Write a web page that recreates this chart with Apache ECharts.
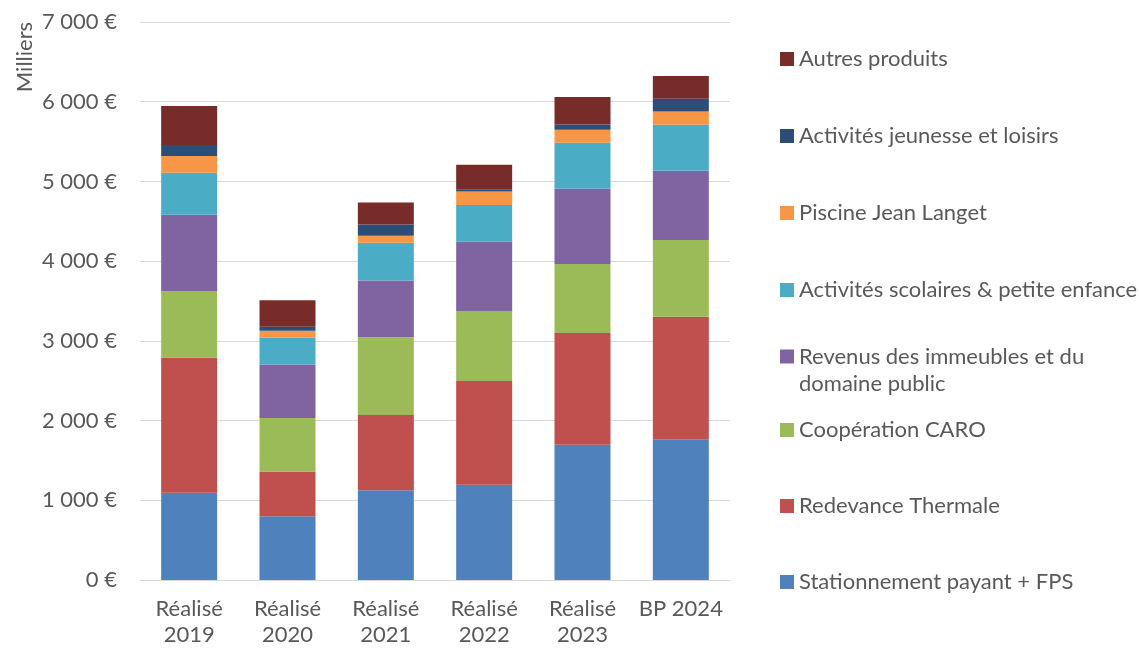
<!DOCTYPE html>
<html>
<head>
<meta charset="utf-8">
<script src="https://cdn.jsdelivr.net/npm/echarts@6/dist/echarts.min.js"></script>
<style>
html,body{margin:0;padding:0;background:#fff;}
#chart{width:1139px;height:648px;}
</style>
</head>
<body>
<div id="chart"></div>
<script>
const categories = ['Réalisé\n2019', 'Réalisé\n2020', 'Réalisé\n2021', 'Réalisé\n2022', 'Réalisé\n2023', 'BP 2024'];
const yTicks = [0, 1000, 2000, 3000, 4000, 5000, 6000, 7000];

const stationnement = [1096, 799, 1126, 1196, 1697, 1765];
const redevance = [1691, 561, 945, 1299, 1400, 1536];
const caro = [836, 673, 975, 878, 866, 963];
const revenus = [959, 670, 711, 870, 946, 870];
const scolaires = [527, 335, 473, 462, 577, 577];
const piscine = [209, 88, 88, 170, 161, 165];
const jeunesse = [138, 50, 142, 21, 68, 161];
const autres = [490, 334, 276, 314, 344, 285];

const seriesNames = [
  'Stationnement payant + FPS',
  'Redevance Thermale',
  'Coopération CARO',
  'Revenus des immeubles et du\ndomaine public',
  'Activités scolaires & petite enfance',
  'Piscine Jean Langet',
  'Activités jeunesse et loisirs',
  'Autres produits'
];
const seriesData = [stationnement, redevance, caro, revenus, scolaires, piscine, jeunesse, autres];
const colors = ['#4F81BD', '#C0504D', '#9BBB59', '#8064A2', '#4BACC6', '#F79646', '#2C4D75', '#772C2A'];

const FONT = 'Lato';
const TXT = '#595959';
const FS = 22;

function fmt(v) {
  const s = String(Math.round(v));
  return s.replace(/\B(?=(\d{3})+(?!\d))/g, ' ') + ' €';
}

const chart = echarts.init(document.getElementById('chart'), null, {renderer: 'canvas'});

const series = seriesNames.map((n, i) => ({
  name: n,
  type: 'bar',
  stack: 'total',
  barWidth: 56,
  data: seriesData[i],
  itemStyle: {color: colors[i]},
  emphasis: {disabled: true}
}));

const legendCommon = {
  orient: 'vertical',
  left: 780,
  padding: 0,
  itemWidth: 14,
  itemHeight: 14,
  icon: 'rect',
  selectedMode: false,
  textStyle: {color: TXT, fontFamily: FONT, fontSize: FS, lineHeight: 20}
};

chart.setOption({
  animation: false,
  color: colors,
  textStyle: {fontFamily: FONT},
  grid: {left: 140, right: 409, top: 22, bottom: 68, containLabel: false},
  xAxis: {
    type: 'category',
    data: categories,
    axisLine: {show: true, lineStyle: {color: '#D9D9D9', width: 1}},
    axisTick: {show: false},
    axisLabel: {color: TXT, fontFamily: FONT, fontSize: FS, lineHeight: 26, margin: 16, interval: 0}
  },
  yAxis: {
    type: 'value',
    min: yTicks[0],
    max: yTicks[yTicks.length - 1],
    interval: 1000,
    axisLine: {show: false},
    axisTick: {show: false},
    splitLine: {lineStyle: {color: '#D9D9D9', width: 1}},
    axisLabel: {color: TXT, fontFamily: FONT, fontSize: FS, margin: 23, formatter: fmt}
  },
  legend: [
    Object.assign({}, legendCommon, {
      top: 48, itemGap: 55,
      data: [seriesNames[7], seriesNames[6], seriesNames[5], seriesNames[4]]
    }),
    Object.assign({}, legendCommon, {
      top: 316,
      data: [seriesNames[3]],
      formatter: function (n) { return '\n' + n; },
      textStyle: {color: TXT, fontFamily: FONT, fontSize: FS, lineHeight: 27}
    }),
    Object.assign({}, legendCommon, {
      top: 419, itemGap: 54,
      data: [seriesNames[2], seriesNames[1], seriesNames[0]]
    })
  ],
  graphic: [{
    type: 'text',
    x: 25, y: 57,
    rotation: Math.PI / 2,
    style: {text: 'Milliers', fill: TXT, font: FS + 'px ' + FONT, align: 'center', verticalAlign: 'middle'}
  }],
  series: series
});
</script>
</body>
</html>
